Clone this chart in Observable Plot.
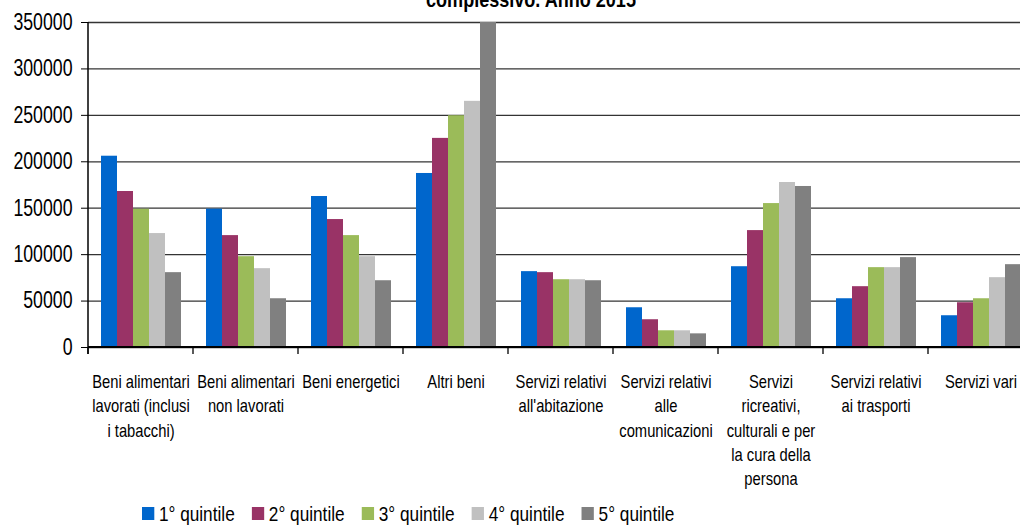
<!DOCTYPE html>
<html><head><meta charset="utf-8">
<script src="https://cdn.jsdelivr.net/npm/d3@7"></script>
<script src="https://cdn.jsdelivr.net/npm/@observablehq/plot@0.6"></script>
<style>
body{margin:0;width:1020px;height:525px;overflow:hidden;position:relative;background:#fff;font-family:"Liberation Sans",Arial,sans-serif;color:#000}
#title{position:absolute;left:0;width:1062px;text-align:center;top:-11px;font-weight:bold;font-size:22px;line-height:22px;white-space:nowrap;transform:scaleX(0.82);transform-origin:531px 0}
#chart{position:absolute;left:0;top:0;width:1040px}
#chart svg{max-width:none}
#legend{position:absolute;left:142px;top:503px;display:flex;align-items:center;font-size:21px;line-height:21px;white-space:nowrap;transform:scaleX(0.82);transform-origin:0 0}
.item{display:flex;align-items:center;margin-right:21px}
.sw{width:14.6px;height:13px;margin-right:6px}
</style></head><body>
<div id="title">complessivo. Anno 2015</div>
<div id="chart"></div>
<div id="legend"></div>
<script>
const categories = [
  "Beni alimentari lavorati (inclusi i tabacchi)",
  "Beni alimentari non lavorati",
  "Beni energetici",
  "Altri beni",
  "Servizi relativi all'abitazione",
  "Servizi relativi alle comunicazioni",
  "Servizi ricreativi, culturali e per la cura della persona",
  "Servizi relativi ai trasporti",
  "Servizi vari"
];
const categoryLabels = [
  "Beni alimentari\nlavorati (inclusi\ni tabacchi)",
  "Beni alimentari\nnon lavorati",
  "Beni energetici",
  "Altri beni",
  "Servizi relativi\nall'abitazione",
  "Servizi relativi\nalle\ncomunicazioni",
  "Servizi\nricreativi,\nculturali e per\nla cura della\npersona",
  "Servizi relativi\nai trasporti",
  "Servizi vari"
];
const quintiles = ["1° quintile", "2° quintile", "3° quintile", "4° quintile", "5° quintile"];
const q1 = [206000, 149000, 162600, 187400, 81700, 42800, 87000, 52500, 34200];
const q2 = [168000, 120500, 137800, 225200, 80600, 29900, 125900, 65500, 48200];
const q3 = [148900, 97800, 120500, 249600, 73000, 18000, 155000, 86000, 52500];
const q4 = [122700, 84900, 97800, 265100, 73000, 18000, 177700, 86000, 75200];
const q5 = [80600, 52500, 71900, 350000, 71900, 14700, 173400, 96800, 89200];
const colors = ["#0066CC", "#993366", "#9BBB59", "#C0C0C0", "#808080"];
const yTicks = [0, 50000, 100000, 150000, 200000, 250000, 300000, 350000];

const series = [q1, q2, q3, q4, q5];
const data = categories.flatMap((c, i) => quintiles.map((q, j) => ({category: c, quintile: q, value: series[j][i]})));
const labelOf = new Map(categories.map((c, i) => [c, categoryLabels[i]]));
const FONT = '"Liberation Sans",Arial,sans-serif';

const plot = Plot.plot({
  width: 1040, height: 500,
  marginLeft: 88, marginRight: 7, marginTop: 22, marginBottom: 153,
  style: {fontFamily: FONT, fontSize: "18px", color: "#000", background: "transparent", overflow: "visible", maxWidth: "none"},
  fx: {domain: categories, padding: 0, label: null},
  x: {domain: quintiles, paddingInner: 0, paddingOuter: 0.7, axis: null},
  y: {domain: [0, 350000], label: null, clamp: true},
  color: {domain: quintiles, range: colors},
  marks: [
    Plot.gridY(yTicks, {stroke: "#111", strokeOpacity: 0.85, strokeWidth: 1.3}),
    Plot.barY(data, {fx: "category", x: "quintile", y: "value", fill: "quintile"}),
    Plot.axisY(yTicks, {tickSize: 7, tickPadding: 9, fontSize: 23, tickFormat: d => String(d), label: null, stroke: "#000"}),
    Plot.axisFx({anchor: "bottom", tickSize: 0, tickPadding: 23, fontSize: 18, lineHeight: 1.355, lineAnchor: "top", label: null, tickFormat: c => labelOf.get(c)})
  ]
});
document.getElementById("chart").appendChild(plot);

const fx = plot.scale("fx"), y = plot.scale("y");
const svg = d3.select(plot);

// condense texts horizontally around their anchor (Arial Narrow look)
svg.selectAll("text").each(function() {
  const sx = this.closest('[aria-label="y-axis tick label"]') ? 0.77 : 0.82;
  const t = this.getAttribute("transform") || "";
  const x = +this.getAttribute("x") || 0, yv = +this.getAttribute("y") || 0;
  this.setAttribute("transform", `${t} translate(${x},${yv}) scale(${sx},1) translate(${-x},${-yv})`);
});

// axis lines and group boundary ticks, positioned through the plot's own scales
const y0 = y.apply(0), yTop = y.apply(350000);
const xLeft = fx.apply(categories[0]);
const xRight = fx.apply(categories[categories.length - 1]) + fx.bandwidth;
const g = svg.append("g").attr("stroke", "#000");
g.append("line").attr("x1", xLeft).attr("x2", xLeft).attr("y1", yTop).attr("y2", y0 + 7).attr("stroke-width", 1.5);
g.append("line").attr("x1", xLeft).attr("x2", xRight).attr("y1", y0).attr("y2", y0).attr("stroke-width", 2);
categories.forEach(c => {
  const xb = fx.apply(c);
  g.append("line").attr("x1", xb).attr("x2", xb).attr("y1", y0).attr("y2", y0 + 7).attr("stroke-width", 1.3);
});

const legend = d3.select("#legend");
quintiles.forEach((q, i) => {
  const it = legend.append("div").attr("class", "item");
  it.append("div").attr("class", "sw").style("background", colors[i]);
  it.append("span").text(q);
});
</script>
</body></html>
